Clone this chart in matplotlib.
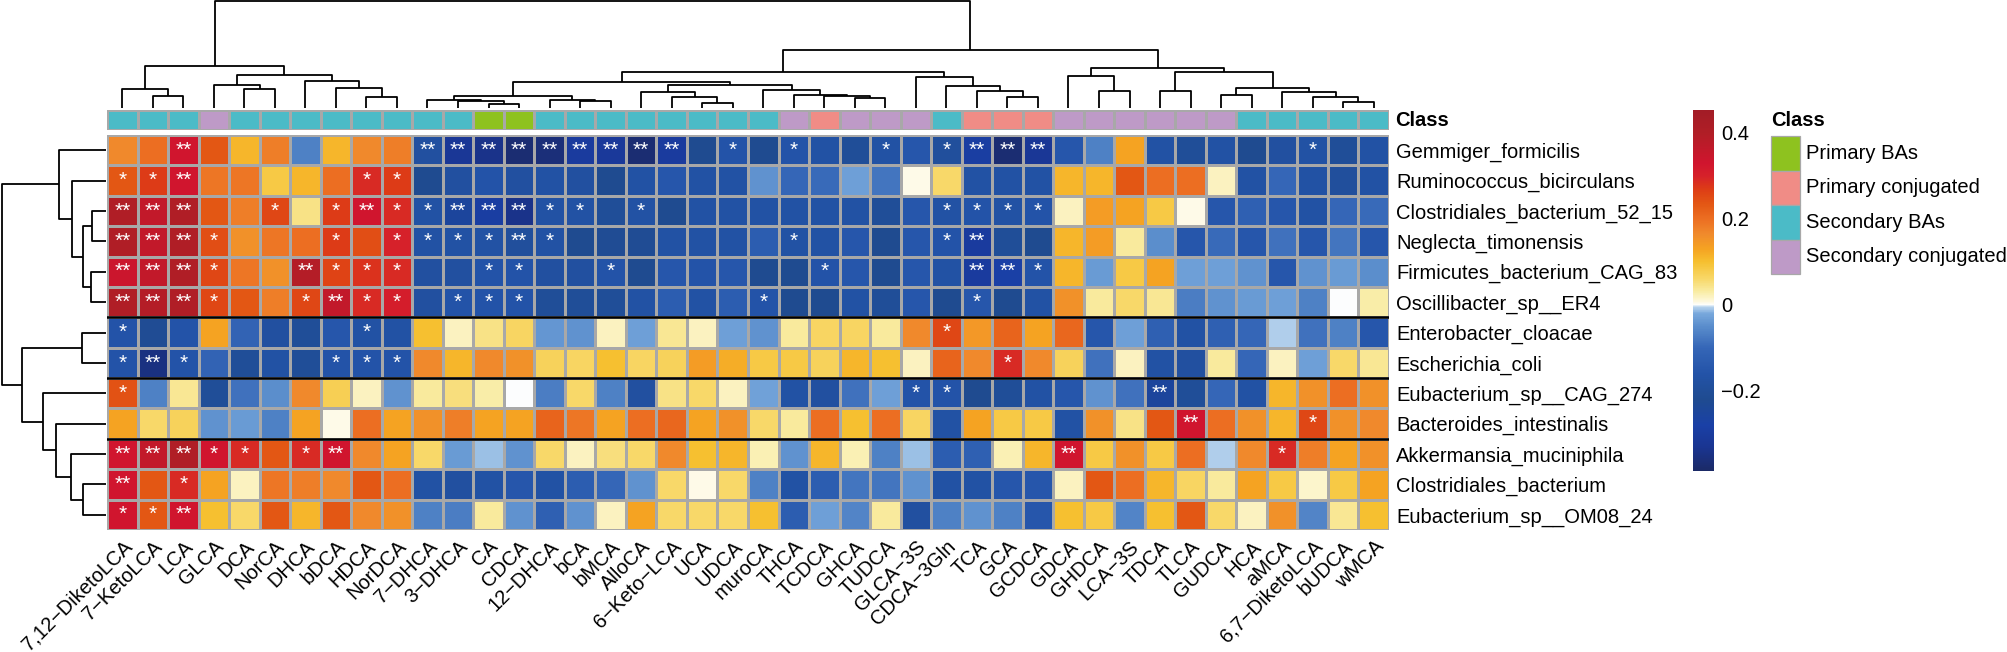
import numpy as np
import matplotlib
matplotlib.use("Agg")
import matplotlib.pyplot as plt
from matplotlib.colors import LinearSegmentedColormap, ListedColormap, Normalize
from matplotlib.patches import Rectangle
import matplotlib.cm as cm

plt.rcParams['font.family'] = ['Liberation Sans', 'DejaVu Sans']

# ---- data ----
bile_acids = ["7,12−DiketoLCA", "7−KetoLCA", "LCA", "GLCA", "DCA", "NorCA", "DHCA", "bDCA",
              "HDCA", "NorDCA", "7−DHCA", "3−DHCA", "CA", "CDCA", "12−DHCA", "bCA", "bMCA",
              "AlloCA", "6−Keto−LCA", "UCA", "UDCA", "muroCA", "THCA", "TCDCA", "GHCA", "TUDCA",
              "GLCA−3S", "CDCA−3Gln", "TCA", "GCA", "GCDCA", "GDCA", "GHDCA", "LCA−3S", "TDCA",
              "TLCA", "GUDCA", "HCA", "aMCA", "6,7−DiketoLCA", "bUDCA", "wMCA"]

bacteria = ["Gemmiger_formicilis", "Ruminococcus_bicirculans", "Clostridiales_bacterium_52_15",
            "Neglecta_timonensis", "Firmicutes_bacterium_CAG_83", "Oscillibacter_sp__ER4",
            "Enterobacter_cloacae", "Escherichia_coli", "Eubacterium_sp__CAG_274",
            "Bacteroides_intestinalis", "Akkermansia_muciniphila", "Clostridiales_bacterium",
            "Eubacterium_sp__OM08_24"]

# class of each bile acid: P primary, PC primary conjugated, S secondary, SC secondary conjugated
ba_class = ["S", "S", "S", "SC", "S", "S", "S", "S", "S", "S", "S", "S", "P", "P", "S", "S", "S",
            "S", "S", "S", "S", "S", "SC", "PC", "SC", "SC", "SC", "S", "PC", "PC", "PC", "SC", "SC",
            "SC", "SC", "SC", "SC", "S", "S", "S", "S", "S"]

class_names = ["Primary BAs", "Primary conjugated", "Secondary BAs", "Secondary conjugated"]
class_keys = ["P", "PC", "S", "SC"]
class_colors = ["#8EC21F", "#F08C86", "#4BBBC7", "#BE9AC7"]

corr = [
    [0.165, 0.20, 0.33, 0.235, 0.11, 0.18, -0.065, 0.11, 0.165, 0.18,
     -0.18, -0.32, -0.34, -0.37, -0.36, -0.30, -0.31, -0.37, -0.30, -0.22,
     -0.16, -0.22, -0.16, -0.17, -0.20, -0.17, -0.15, -0.19, -0.29, -0.37,
     -0.32, -0.15, -0.065, 0.13, -0.17, -0.20, -0.17, -0.22, -0.18, -0.17,
     -0.20, -0.17],
    [0.235, 0.27, 0.33, 0.19, 0.19, 0.085, 0.11, 0.20, 0.29, 0.27,
     -0.22, -0.18, -0.16, -0.18, -0.17, -0.18, -0.22, -0.17, -0.15, -0.17,
     -0.17, -0.045, -0.10, -0.095, -0.03, -0.08, 0.005, 0.06, -0.17, -0.17,
     -0.17, 0.11, 0.11, 0.235, 0.20, 0.20, 0.02, -0.17, -0.10, -0.17,
     -0.19, -0.17],
    [0.40, 0.36, 0.40, 0.235, 0.18, 0.255, 0.045, 0.27, 0.33, 0.29,
     -0.17, -0.25, -0.29, -0.34, -0.17, -0.17, -0.20, -0.17, -0.22, -0.17,
     -0.17, -0.17, -0.17, -0.17, -0.17, -0.20, -0.15, -0.17, -0.16, -0.17,
     -0.16, 0.02, 0.14, 0.13, 0.085, 0.005, -0.15, -0.12, -0.15, -0.17,
     -0.10, -0.095],
    [0.40, 0.36, 0.40, 0.245, 0.155, 0.19, 0.20, 0.27, 0.245, 0.30,
     -0.17, -0.17, -0.17, -0.19, -0.17, -0.22, -0.21, -0.21, -0.17, -0.17,
     -0.17, -0.13, -0.17, -0.17, -0.15, -0.22, -0.15, -0.16, -0.30, -0.20,
     -0.22, 0.11, 0.14, 0.035, -0.05, -0.15, -0.095, -0.15, -0.085, -0.15,
     -0.08, -0.15],
    [0.34, 0.36, 0.40, 0.255, 0.19, 0.155, 0.39, 0.26, 0.28, 0.29,
     -0.18, -0.18, -0.16, -0.16, -0.18, -0.18, -0.16, -0.22, -0.15, -0.16,
     -0.15, -0.22, -0.22, -0.16, -0.15, -0.22, -0.15, -0.17, -0.30, -0.28,
     -0.16, 0.11, -0.035, 0.085, 0.13, -0.03, -0.03, -0.045, -0.15, -0.045,
     -0.035, -0.05],
    [0.40, 0.39, 0.40, 0.255, 0.235, 0.18, 0.255, 0.36, 0.29, 0.31,
     -0.18, -0.16, -0.16, -0.16, -0.20, -0.20, -0.20, -0.17, -0.13, -0.17,
     -0.13, -0.16, -0.22, -0.22, -0.17, -0.20, -0.15, -0.22, -0.15, -0.22,
     -0.17, 0.155, 0.035, 0.06, 0.04, -0.07, -0.045, -0.035, -0.03, -0.065,
     0.0, 0.03],
    [-0.16, -0.21, -0.16, 0.13, -0.11, -0.18, -0.20, -0.15, -0.17, -0.17,
     0.10, 0.02, 0.045, 0.065, -0.04, -0.045, 0.02, -0.03, 0.04, 0.02,
     -0.03, -0.045, 0.035, 0.065, 0.065, 0.035, 0.165, 0.255, 0.145, 0.215,
     0.13, 0.21, -0.15, -0.03, -0.12, -0.17, -0.12, -0.10, -0.006, -0.085,
     -0.065, -0.15],
    [-0.16, -0.35, -0.16, -0.11, -0.20, -0.17, -0.20, -0.16, -0.16, -0.16,
     0.165, 0.11, 0.165, 0.155, 0.07, 0.065, 0.10, 0.065, 0.07, 0.14,
     0.12, 0.085, 0.085, 0.07, 0.11, 0.10, 0.02, 0.215, 0.165, 0.29,
     0.165, 0.07, -0.085, 0.02, -0.17, -0.18, 0.035, -0.10, 0.02, -0.03,
     0.06, 0.04],
    [0.24, -0.065, 0.04, -0.20, -0.085, -0.05, 0.165, 0.075, 0.02, -0.045,
     0.035, 0.05, 0.03, 0.0, -0.07, 0.06, -0.065, -0.18, 0.045, 0.06,
     0.02, -0.028, -0.17, -0.18, -0.085, -0.03, -0.16, -0.16, -0.22, -0.20,
     -0.17, -0.15, -0.045, -0.085, -0.25, -0.20, -0.10, -0.17, 0.11, 0.155,
     0.20, 0.155],
    [0.13, 0.06, 0.07, -0.045, -0.035, -0.065, 0.13, 0.005, 0.20, 0.13,
     0.155, 0.18, 0.13, 0.13, 0.215, 0.19, 0.13, 0.20, 0.21, 0.13,
     0.155, 0.06, 0.035, 0.20, 0.10, 0.20, 0.065, -0.17, 0.13, 0.085,
     0.085, -0.17, 0.155, 0.045, 0.235, 0.33, 0.20, 0.155, 0.11, 0.255,
     0.155, 0.165],
    [0.33, 0.36, 0.40, 0.33, 0.29, 0.235, 0.29, 0.33, 0.165, 0.13,
     0.06, -0.035, -0.012, -0.045, 0.06, 0.02, 0.05, 0.06, 0.165, 0.10,
     0.11, 0.025, -0.045, 0.11, 0.025, -0.065, -0.012, -0.13, -0.12, 0.025,
     0.11, 0.33, 0.085, 0.155, 0.085, 0.20, -0.006, 0.165, 0.29, 0.18,
     0.13, 0.155],
    [0.33, 0.235, 0.29, 0.13, 0.02, 0.19, 0.18, 0.165, 0.235, 0.20,
     -0.17, -0.18, -0.17, -0.15, -0.17, -0.13, -0.10, -0.045, 0.06, 0.005,
     0.06, -0.065, -0.17, -0.13, -0.08, -0.08, -0.045, -0.17, -0.17, -0.15,
     -0.15, 0.02, 0.235, 0.20, 0.11, 0.065, 0.035, 0.13, 0.085, 0.015,
     0.085, 0.13],
    [0.33, 0.235, 0.33, 0.10, 0.06, 0.235, 0.11, 0.235, 0.165, 0.155,
     -0.065, -0.07, 0.035, -0.045, -0.12, -0.045, 0.02, 0.13, 0.06, 0.06,
     0.06, 0.10, -0.13, -0.03, -0.06, 0.035, -0.18, -0.065, -0.045, -0.065,
     -0.15, 0.10, 0.085, -0.06, 0.10, 0.235, 0.06, 0.02, 0.155, -0.06,
     0.04, 0.10],
]

# significance marks: row -> (columns with "**", columns with "*"), 1-based columns
signif = {
    1: ([3, 11, 12, 13, 14, 15, 16, 17, 18, 19, 29, 30, 31], [21, 23, 26, 28, 40]),
    2: ([3], [1, 2, 9, 10]),
    3: ([1, 2, 3, 9, 12, 13, 14], [6, 8, 10, 11, 15, 16, 18, 28, 29, 30, 31]),
    4: ([1, 2, 3, 14, 29], [4, 8, 10, 11, 12, 13, 15, 23, 28]),
    5: ([1, 2, 3, 7, 29, 30], [4, 8, 9, 10, 13, 14, 17, 24, 31]),
    6: ([1, 2, 3, 8], [4, 7, 9, 10, 12, 13, 14, 22, 29]),
    7: ([], [1, 9, 28]),
    8: ([2], [1, 3, 8, 9, 10, 30]),
    9: ([35], [1, 27, 28]),
    10: ([36], [40]),
    11: ([1, 2, 3, 8, 32], [4, 5, 7, 39]),
    12: ([1], [3]),
    13: ([3], [1, 2]),
}

# dendrograms as nested (left, right, height); leaves are 0-based positions
col_tree = (
    ((0, (1, 2, 37), 57),
     ((3, (4, 5, 55), 68), (6, (7, (8, 9, 32), 60), 80), 98), 125),
    ((((((10, (11, (12, 13, 12), 20), 25), (14, (15, 16, 20), 25), 37),
        ((17, (18, (19, 20, 15), 32), 48),
         (21, (22, (23, (24, 25, 30), 36), 38), 52), 67), 77),
       (26, (27, (28, (29, 30, 32), 50), 65), 91), 106),
      ((31, (32, 33, 50), 95),
       ((34, 35, 50), ((36, 37, 40), (38, (39, (40, 41, 17), 33), 48), 60), 108), 118), 172)),
    318)

row_tree = (
    (0, (1, ((2, 3, 43), (4, 5, 46), 70), 101), 141),
    ((6, 7, 73), (8, (9, (10, (11, 12, 70), 106), 150), 188), 251),
    313)

group_breaks = [6, 8, 10]

# ---- colours ----
vmin, vmax = -0.386, 0.453
stops = [(-0.386, "#1B2A66"), (-0.33, "#1A3592"), (-0.28, "#1A40A6"), (-0.22, "#1F4B90"),
         (-0.16, "#2353A8"), (-0.10, "#3566B7"), (-0.05, "#5A8DCC"), (-0.02, "#78A8DC"),
         (-0.004, "#BCD6EE"), (0.0, "#FFFFFF"), (0.006, "#FEF9E2"), (0.03, "#F9EDA6"),
         (0.06, "#F8D86A"), (0.10, "#F6C030"), (0.13, "#F5A322"), (0.165, "#F08A2C"),
         (0.20, "#EC6E22"), (0.235, "#E35714"), (0.27, "#DD3C16"), (0.30, "#D6212A"),
         (0.33, "#D0152E"), (0.40, "#B01E26"), (0.453, "#A21C26")]
cmap = LinearSegmentedColormap.from_list(
    "corr", [((v - vmin) / (vmax - vmin), c) for v, c in stops], N=512)
norm = Normalize(vmin=vmin, vmax=vmax)

W, H = 2008, 652
fig = plt.figure(figsize=(W / 100, H / 100), dpi=100)


def px_axes(x0, y0, x1, y1):
    return fig.add_axes([x0 / W, 1 - y1 / H, (x1 - x0) / W, (y1 - y0) / H])


FS = 14.5
grid = "#A8A8A8"
n_rows, n_cols = len(bacteria), len(bile_acids)
vals = np.array(corr)

# heatmap
ax = px_axes(107, 135, 1389, 530)
ax.pcolormesh(np.arange(n_cols + 1), np.arange(n_rows + 1), vals, cmap=cmap, norm=norm,
              edgecolors=grid, linewidth=0.9)
ax.set_xlim(0, n_cols)
ax.set_ylim(n_rows, 0)
for s in ax.spines.values():
    s.set_visible(False)
ax.set_xticks(np.arange(n_cols) + 0.5)
ax.set_xticklabels(bile_acids, rotation=45, ha="right", va="top", rotation_mode="anchor",
                   fontsize=FS)
ax.yaxis.tick_right()
ax.set_yticks(np.arange(n_rows) + 0.5)
ax.set_yticklabels(bacteria, fontsize=FS)
ax.tick_params(length=0, pad=5)
for b in group_breaks:
    ax.axhline(b, color="black", lw=1.8)
for r, (dbl, sgl) in signif.items():
    for c in dbl:
        ax.text(c - 0.5, r - 0.5, "**", color="white", ha="center", va="center", fontsize=15)
    for c in sgl:
        ax.text(c - 0.5, r - 0.5, "*", color="white", ha="center", va="center", fontsize=15)

# class annotation bar
axc = px_axes(107, 110, 1389, 130)
cls_idx = np.array([[class_keys.index(k) for k in ba_class]])
axc.pcolormesh(np.arange(n_cols + 1), [0, 1], cls_idx, cmap=ListedColormap(class_colors),
               vmin=-0.5, vmax=3.5, edgecolors=grid, linewidth=0.9)
axc.set_xlim(0, n_cols)
axc.set_ylim(1, 0)
axc.axis("off")
axc.text(n_cols + 0.2, 0.5, "Class", fontsize=FS, fontweight="bold", ha="left", va="center")


def draw_tree(axis, node, top):
    if isinstance(node, int):
        return node + 0.5, 0.0
    left, right, h = node
    pl, hl = draw_tree(axis, left, top)
    pr, hr = draw_tree(axis, right, top)
    pos = [pl, pl, pr, pr]
    hts = [hl, h, h, hr]
    if top:
        axis.plot(pos, hts, color="black", lw=1.3, solid_capstyle="butt")
    else:
        axis.plot(hts, pos, color="black", lw=1.3, solid_capstyle="butt")
    return (pl + pr) / 2, h


axt = px_axes(107, 0, 1389, 108)
draw_tree(axt, col_tree, True)
axt.set_xlim(0, n_cols)
axt.set_ylim(0, 320)
axt.axis("off")

axl = px_axes(0, 135, 106, 530)
draw_tree(axl, row_tree, False)
axl.set_ylim(n_rows, 0)
axl.set_xlim(318, 0)
axl.axis("off")

# colour bar
cax = px_axes(1693, 110, 1714, 471)
cb = fig.colorbar(cm.ScalarMappable(norm=norm, cmap=cmap), cax=cax)
cb.outline.set_visible(False)
cb.set_ticks([0.4, 0.2, 0.0, -0.2])
cb.set_ticklabels(["0.4", "0.2", "0", "−0.2"])
cax.tick_params(length=0, pad=5, labelsize=FS)

# class legend
axg = px_axes(1760, 100, 2008, 290)
axg.set_xlim(1760, 2008)
axg.set_ylim(290, 100)
axg.axis("off")
axg.text(1771, 120, "Class", fontsize=FS, fontweight="bold", ha="left", va="center")
box_h = 34.5
for i, (name, col) in enumerate(zip(class_names, class_colors)):
    y0 = 136 + i * box_h
    axg.add_patch(Rectangle((1771, y0), 29, box_h, facecolor=col, edgecolor=grid, lw=0.9))
    axg.text(1806, y0 + box_h / 2, name, fontsize=FS, ha="left", va="center")

fig.savefig("out.png", dpi=100)
